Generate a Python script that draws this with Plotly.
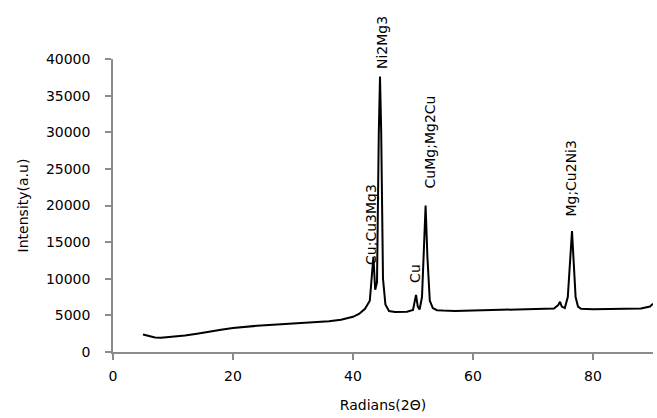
import plotly.graph_objects as go

# 2-theta positions and intensities
two_theta = [5, 6, 7, 8, 10, 12, 14, 16, 18, 20, 22, 24, 26, 28, 30, 32, 34, 36, 38, 40,
             41, 42, 42.8, 43.1, 43.4, 43.7, 44.0, 44.3, 44.5, 44.7, 45.0, 45.4, 46, 47, 48,
             49, 50, 50.3, 50.5, 50.8, 51.1, 51.5, 51.8, 52.1, 52.4, 52.8, 53.3, 54, 55, 57,
             60, 63, 66, 69, 72, 73.5, 74.2, 74.5, 74.8, 75.3, 75.8, 76.2, 76.5, 76.8, 77.1,
             77.5, 78, 80, 82, 84, 86, 88, 89.5, 90]
intensity = [2400, 2150, 1980, 1950, 2050, 2250, 2500, 2800, 3050, 3280, 3450, 3580, 3680,
             3780, 3850, 3950, 4050, 4200, 4400, 4800,
             5200, 5900, 7000, 9500, 13000, 8500, 9500, 30000, 37600, 30000, 10000, 6500,
             5600, 5450, 5450,
             5500, 5750, 6800, 7800, 6200, 5800, 7500, 14000, 20000, 13000, 7000, 6000, 5700,
             5650, 5600,
             5650, 5700, 5750, 5800, 5850, 5950, 6400, 6850, 6200, 6000, 7500, 12000, 16500,
             12000, 7500,
             6200, 5900, 5850, 5850, 5900, 5950, 5950, 6200, 6600]

# peak labels: text, x position, bottom of label (intensity units)
peak_labels = ["Ni2Mg3", "Cu;Cu3Mg3", "Cu", "CuMg;Mg2Cu", "Mg;Cu2Ni3"]
peak_x = [44.8, 42.9, 50.4, 52.8, 76.4]
peak_y = [38400, 11600, 9150, 22100, 18200]

x_ticks = [0, 20, 40, 60, 80]
y_ticks = [0, 5000, 10000, 15000, 20000, 25000, 30000, 35000, 40000]
y_tick_text = [str(v) for v in y_ticks]

FONT = "DejaVu Sans"
AXIS_COLOR = "#8c8c8c"

fig = go.Figure()
fig.add_trace(go.Scatter(x=two_theta, y=intensity, mode="lines",
                         line=dict(color="black", width=2), showlegend=False,
                         hoverinfo="skip"))

for t, px, py in zip(peak_labels, peak_x, peak_y):
    fig.add_annotation(x=px, y=py, text=t, textangle=-90, showarrow=False,
                       xanchor="center", yanchor="bottom",
                       font=dict(family=FONT, size=14, color="black"))

fig.update_layout(
    width=657, height=418,
    margin=dict(l=113, r=4, t=59, b=66),
    paper_bgcolor="white", plot_bgcolor="white",
    font=dict(family=FONT, size=14, color="black"),
    xaxis=dict(range=[0, 90], tickvals=x_ticks, showgrid=False, zeroline=False,
               showline=True, linecolor=AXIS_COLOR, linewidth=1.5,
               ticks="outside", tickcolor=AXIS_COLOR, ticklen=6, tickwidth=1.5,
               ticklabelstandoff=4,
               tickfont=dict(family=FONT, size=14, color="black"),
               title=dict(text="Radians(2Θ)", standoff=18,
                          font=dict(family=FONT, size=14, color="black"))),
    yaxis=dict(range=[0, 40000], tickvals=y_ticks, ticktext=y_tick_text,
               showgrid=False, zeroline=False,
               showline=True, linecolor=AXIS_COLOR, linewidth=1.5,
               ticks="outside", tickcolor=AXIS_COLOR, ticklen=6, tickwidth=1.5,
               ticklabelstandoff=12,
               tickfont=dict(family=FONT, size=14, color="black"),
               title=dict(text="Intensity(a.u)", standoff=14,
                          font=dict(family=FONT, size=14, color="black"))),
)

fig.write_html("out.html")
